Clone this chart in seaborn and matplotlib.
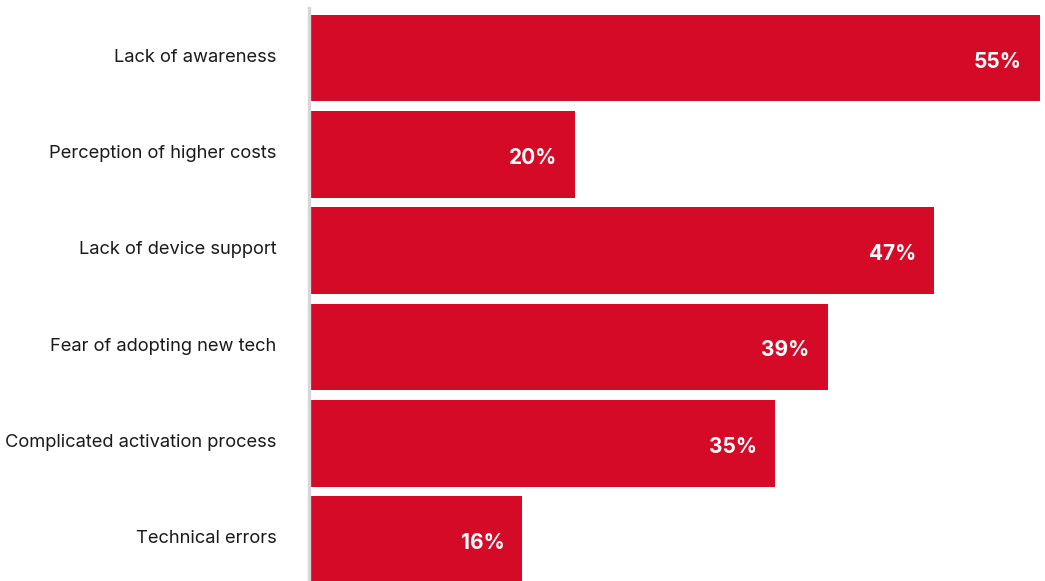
import matplotlib
matplotlib.use("Agg")
import matplotlib.pyplot as plt
from matplotlib.transforms import ScaledTranslation
import seaborn as sns
import pandas as pd

categories = [
    "Lack of awareness",
    "Perception of higher costs",
    "Lack of device support",
    "Fear of adopting new tech",
    "Complicated activation process",
    "Technical errors",
]
shares = [55, 20, 47, 39, 35, 16]
value_labels = ["55%", "20%", "47%", "39%", "35%", "16%"]

sns.set_theme(style="white")
plt.rcParams["font.family"] = ["Inter", "DejaVu Sans"]

df = pd.DataFrame({"reason": categories, "share": shares})

fig = plt.figure(figsize=(10.45, 5.81), dpi=100)
ax = fig.add_axes([310 / 1045, 0.0, 730 / 1045, 1 - 8 / 581])

sns.barplot(data=df, y="reason", x="share", order=categories, color="#D50A26",
            saturation=1, width=0.9, orient="h", linewidth=0, ax=ax)

ax.set_xlim(0, 55)
ax.set_ylim(5.43, -0.52)
ax.set_xlabel("")
ax.set_ylabel("")
ax.set_xticks([])

for side in ["top", "right", "bottom"]:
    ax.spines[side].set_visible(False)
ax.spines["left"].set_color("#D6D6D6")
ax.spines["left"].set_linewidth(2.4)
ax.spines["left"].set_position(("outward", 1))

ax.tick_params(axis="y", length=0, pad=23, labelsize=13.2, labelcolor="#1A1A1A")
shift_up = ScaledTranslation(0, 2 / 72, fig.dpi_scale_trans)
for lbl in ax.get_yticklabels():
    lbl.set_transform(lbl.get_transform() + shift_up)

shift_left = ScaledTranslation(-18 / 100, -3.5 / 100, fig.dpi_scale_trans)
for i, (v, txt) in enumerate(zip(shares, value_labels)):
    ax.text(v, i, txt, ha="right", va="center", color="white",
            fontsize=15, fontweight="bold",
            transform=ax.transData + shift_left)

fig.savefig("out.png", dpi=100)
